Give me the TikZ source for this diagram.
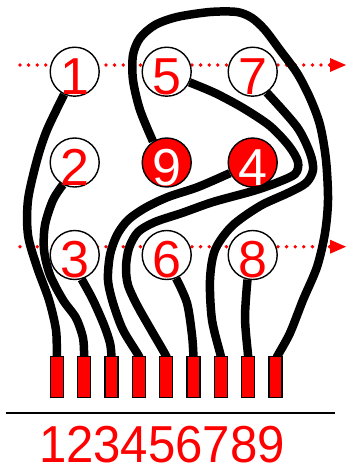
\documentclass[tikz,border=0pt]{standalone}
\usepackage{fontspec}
\setmainfont{Liberation Sans}
\pgfdeclarelayer{dots}
\pgfdeclarelayer{wires}
\pgfsetlayers{dots,wires,main}
\begin{document}
\begin{tikzpicture}[x=1pt,y=-1pt,
  circ/.style={circle,draw=black,line width=1.4pt,fill=white,minimum size=49pt,inner sep=0pt},
  hot/.style={circ,fill=red},
  pad/.style={rectangle,draw=black,line width=1.3pt,fill=red,minimum width=13pt,minimum height=41pt,inner sep=0pt},
  wire/.style={line width=8.5pt,draw=black},
  dotline/.style={red,line width=3.8pt,line cap=round,dash pattern=on 0pt off 8.6pt},
  digit/.style={font=\fontsize{52}{52}\selectfont,text=red,inner sep=0pt,anchor=base},
  wdigit/.style={digit,text=white},
  rule/.style={line width=1.6pt,draw=black}]
\useasboundingbox (0,0) rectangle (347,466);
% circles
\node[circ] (c1) at (74.7,71.7) {};
\node[circ] (c5) at (166.7,71.7) {};
\node[circ] (c7) at (252.7,71.7) {};
\node[circ] (c2) at (74.7,162.5) {};
\node[hot]  (c9) at (166.7,162.5) {};
\node[hot]  (c4) at (252.7,162.5) {};
\node[circ] (c3) at (74.7,255) {};
\node[circ] (c6) at (166.7,255) {};
\node[circ] (c8) at (252.7,255) {};
% circle digits
\node[digit]  (d1) at ([yshift=-22.5pt]c1.center) {1};
\node[digit]  (d5) at ([yshift=-22.5pt]c5.center) {5};
\node[digit]  (d7) at ([yshift=-22.5pt]c7.center) {7};
\node[digit]  (d2) at ([yshift=-22.5pt]c2.center) {2};
\node[wdigit] (d9) at ([yshift=-22.5pt]c9.center) {9};
\node[wdigit] (d4) at ([yshift=-22.5pt]c4.center) {4};
\node[digit]  (d3) at ([yshift=-22.5pt]c3.center) {3};
\node[digit]  (d6) at ([yshift=-22.5pt]c6.center) {6};
\node[digit]  (d8) at ([yshift=-22.5pt]c8.center) {8};
% pads
\foreach \i in {1,...,9}
  \node[pad] (p\i) at ({56.8+27.33*(\i-1)},377.2) {};
% rule and numbers
\coordinate (r0) at (5.7,412.7);
\coordinate (r1) at (335,412.7);
\draw[rule] (r0) -- (r1);
\node[digit] (nums) at (162,462.5) {\scalebox{0.945}[1]{123456789}};
% dotted arrows
\begin{pgfonlayer}{dots}
\coordinate (ta) at (20,65);
\coordinate (tb) at (330,65);
\draw[dotline] (ta) -- (tb);
\fill[red] ([yshift=7pt]tb) -- ([xshift=16pt]tb) -- ([yshift=-7pt]tb) -- cycle;
\coordinate (ba) at (20,246.7);
\coordinate (bb) at (330,246.7);
\draw[dotline] (ba) -- (bb);
\fill[red] ([yshift=7pt]bb) -- ([xshift=16pt]bb) -- ([yshift=-7pt]bb) -- cycle;
\end{pgfonlayer}
% wires
\begin{pgfonlayer}{wires}
\draw[wire] plot[smooth] coordinates {(c1.245) (47,130) (37,160) (28,200) (28,235) (37,267) (49,300) (56,330) (p1.north) ([yshift=-5pt]p1.north)};
\draw[wire] plot[smooth] coordinates {(c2.242) (53,200) (45,225) (44,250) (50,275) (63,300) (76,318) (83,338) (p2.north) ([yshift=-5pt]p2.north)};
\draw[wire] plot[smooth] coordinates {(c3.286) (93,300) (104,325) (110,343) (p3.north) ([yshift=-5pt]p3.north)};
\draw[wire] plot[smooth] coordinates {(c4.205) (198,187) (168,197) (145,208) (128,220) (117,235) (110,255) (108,280) (113,303) (123,330) (p4.north) ([yshift=-5pt]p4.north)};
\draw[wire] plot[smooth] coordinates {(c5.335) (215,93) (243,108) (270,126) (289,146) (298,162) (295,174) (276,183) (253,191) (213,202) (182,213) (155,222) (138,232) (129,248) (126,267) (128,285) (137,305) (150,328) (p5.north) ([yshift=-5pt]p5.north)};
\draw[wire] plot[smooth] coordinates {(c6.292) (187,303) (192,335) (p6.north) ([yshift=-5pt]p6.north)};
\draw[wire] plot[smooth] coordinates {(c7.304) (297,127) (310,153) (313,170) (306,183) (288,193) (260,206) (232,226) (215,250) (210,280) (212,320) (p7.north) ([yshift=-5pt]p7.north)};
\draw[wire] plot[smooth] coordinates {(c8.258) (245,318) (p8.north) ([yshift=-5pt]p8.north)};
\draw[wire] plot[smooth] coordinates {(c9.123) (140,110) (133,80) (133,55) (140,38) (155,25) (177,17) (210,12) (237,12) (252,18) (265,30) (280,50) (297,73) (310,98) (320,125) (326,160) (328,200) (325,233) (317,267) (303,300) (290,333) ([xshift=2pt]p9.north) ([yshift=-5pt]p9.north)};
\end{pgfonlayer}
\end{tikzpicture}
\end{document}
